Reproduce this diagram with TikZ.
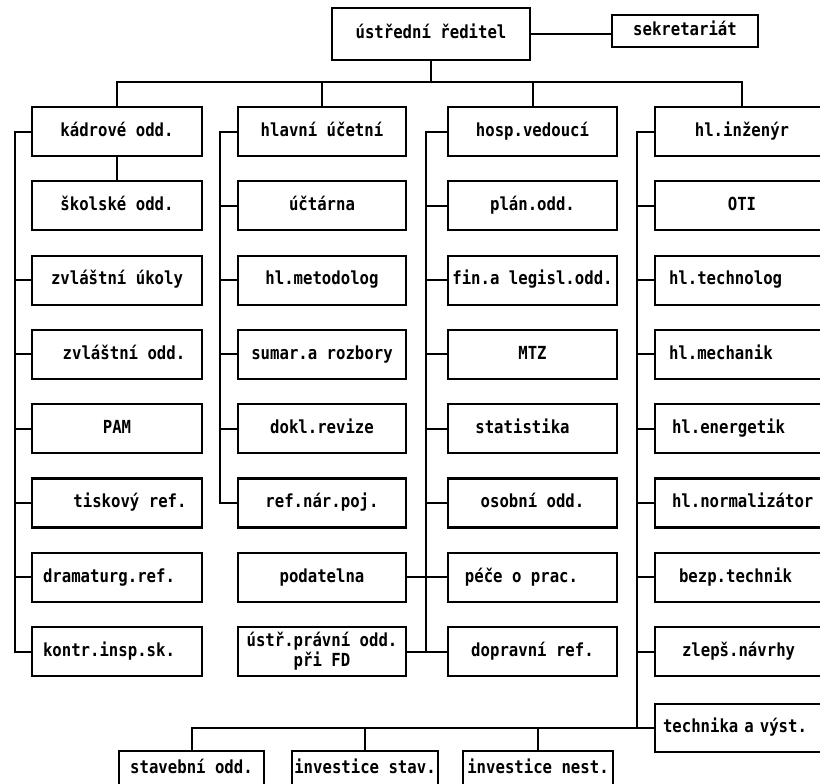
\documentclass[tikz,border=0pt]{standalone}
\usepackage{fontspec}
\newfontfamily\typo{DejaVu Sans Mono}[FakeStretch=0.87]
\begin{document}
\begin{tikzpicture}[x=1pt,y=-1pt,
  lbl/.style={font=\typo\bfseries\fontsize{18}{20}\selectfont},
  base/.style={draw, line width=2.2pt, lbl, inner xsep=2pt, inner ysep=2pt, align=center},
  box/.style={base, minimum height=49pt, text height=12.5pt, text depth=3pt},
  ca/.style={box, minimum width=170pt},
  cb/.style={box, minimum width=168pt},
  cc/.style={box, minimum width=169pt},
  cd/.style={box, minimum width=174pt, text width=158pt, inner xsep=8pt, align=left},
  cdc/.style={cd, align=center},
  cbot/.style={base, minimum height=36pt, text height=12.5pt, text depth=3pt},
  wire/.style={line width=2pt}]
\useasboundingbox (0,0) rectangle (820,784);
\clip (0,0) rectangle (820,784);

% top
\node[box, minimum width=198pt, minimum height=52pt] (dir) at (431,34) {ústřední ředitel};
\node[box, minimum width=146pt, minimum height=32pt] (sek) at (685,31) {sekretariát};

% column 1
\node[ca] (kad) at (117,131.5) {kádrové odd.};
\node[ca] (sko) at (117,205.8) {školské odd.};
\node[ca] (zu)  at (117,280.1) {zvláštní úkoly};
\node[ca] (zo)  at (117,354.4) {\hspace*{14pt}zvláštní odd.};
\node[ca] (pam) at (117,428.7) {PAM};
\node[ca] (tis) at (117,503.0) {\hspace*{26pt}tiskový ref.};
\node[ca] (dra) at (117,577.3) {dramaturg.ref.\hspace*{16pt}};
\node[ca] (kon) at (117,651.6) {kontr.insp.sk.\hspace*{16pt}};

% column 2
\node[cb] (hu)  at (322,131.5) {hlavní účetní};
\node[cb] (uct) at (322,205.8) {účtárna};
\node[cb] (met) at (322,280.1) {hl.metodolog};
\node[cb] (sum) at (322,354.4) {sumar.a rozbory};
\node[cb] (dok) at (322,428.7) {dokl.revize};
\node[cb] (ref) at (322,503.0) {ref.nár.poj.};
\node[cb] (pod) at (322,577.3) {podatelna};
\node[base, minimum width=168pt, minimum height=49pt] (ust) at (322,651.6) {ústř.právní odd.\\při FD};

% column 3
\node[cc] (hv)   at (532.5,131.5) {hosp.vedoucí};
\node[cc] (plan) at (532.5,205.8) {plán.odd.};
\node[cc] (fin)  at (532.5,280.1) {fin.a legisl.odd.};
\node[cc] (mtz)  at (532.5,354.4) {MTZ};
\node[cc] (stat) at (532.5,428.7) {statistika\hspace*{20pt}};
\node[cc] (oso)  at (532.5,503.0) {osobní odd.};
\node[cc] (pec)  at (532.5,577.3) {péče o prac.\hspace*{22pt}};
\node[cc] (dop)  at (532.5,651.6) {dopravní ref.};

% column 4
\node[cdc] (hi)   at (742,131.5) {hl.inženýr};
\node[cdc] (oti)  at (742,205.8) {OTI};
\node[cd]  (tec)  at (742,280.1) {\hspace*{6pt}hl.technolog};
\node[cd]  (mech) at (742,354.4) {\hspace*{6pt}hl.mechanik};
\node[cd]  (ene)  at (742,428.7) {\hspace*{9pt}hl.energetik};
\node[cd]  (nor)  at (742,503.0) {\hspace*{9pt}hl.normalizátor};
\node[cd]  (bez)  at (742,577.3) {\hspace*{16pt}bezp.technik};
\node[cd]  (zle)  at (742,651.6) {\hspace*{19pt}zlepš.návrhy};
\node[cd, minimum height=48pt] (tech) at (742,728) {technika a výst.};

% bottom row
\node[cbot, minimum width=145pt] (stav) at (191.5,769) {stavební odd.};
\node[cbot, minimum width=146pt] (ist)  at (365,769) {investice stav.};
\node[cbot, minimum width=150pt] (ins)  at (538,769) {investice nest.};

% connectors
\coordinate (bus) at (0,82);
\coordinate (s1) at (15,0);
\coordinate (s2) at (220,0);
\coordinate (s3) at (426,0);
\coordinate (s4) at (637,0);

\draw[wire] (dir.east) -- (dir.east -| sek.west);
\draw[wire] (dir.south) -- (dir.south |- bus);
\draw[wire] (kad.north) |- (hi.north |- bus) -- (hi.north);
\draw[wire] (hu.north) -- (hu.north |- bus);
\draw[wire] (hv.north) -- (hv.north |- bus);

\draw[wire] (kad.west) -| (kon.west -| s1) -- (kon.west);
\draw[wire] (kad.south) -- (sko.north);
\foreach \n in {zu,zo,pam,tis,dra} \draw[wire] (\n.west) -- (\n.west -| s1);

\draw[wire] (hu.west) -| (ref.west -| s2) -- (ref.west);
\foreach \n in {uct,met,sum,dok} \draw[wire] (\n.west) -- (\n.west -| s2);

\draw[wire] (hv.west) -| (dop.west -| s3) -- (dop.west);
\foreach \n in {plan,fin,mtz,stat,oso,pec} \draw[wire] (\n.west) -- (\n.west -| s3);
\draw[wire] (pod.east) -- (pec.west);
\draw[wire] (ust.east) -- (dop.west);

\draw[wire] (hi.west) -| (tech.west -| s4) -- (tech.west);
\foreach \n in {oti,tec,mech,ene,nor,bez,zle} \draw[wire] (\n.west) -- (\n.west -| s4);

\draw[wire] (tech.west) -| (stav.north);
\draw[wire] (ist.north) -- (ist.north |- tech.west);
\draw[wire] (ins.north) -- (ins.north |- tech.west);
\end{tikzpicture}
\end{document}
